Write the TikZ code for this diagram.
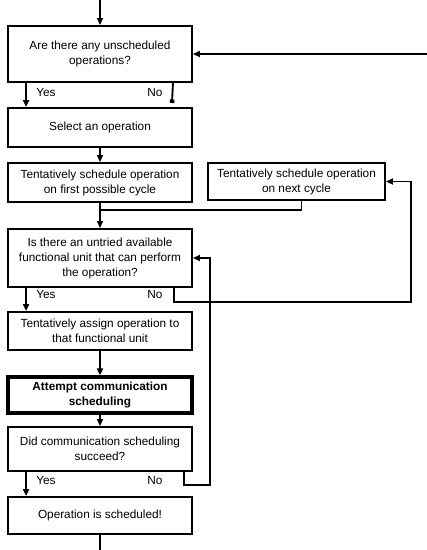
\documentclass[tikz,border=0pt]{standalone}
\usepackage{fontspec}
\setmainfont{Liberation Sans}
\usetikzlibrary{arrows.meta}
\begin{document}
\begin{tikzpicture}[x=1pt,y=-1pt,
  box/.style={draw,line width=1.9pt,rectangle,minimum width=184pt,align=center,inner sep=0pt,
    font=\fontsize{11.8}{15}\selectfont},
  thickbox/.style={box,line width=3.2pt},
  conn/.style={line width=1.9pt},
  arr/.style={conn,-{Triangle[length=7pt,width=6pt]}},
  lbl/.style={font=\fontsize{11.8}{14}\selectfont,inner sep=0pt}]
\useasboundingbox (0,0) rectangle (427,550);
\node[box,minimum height=56pt] (b1) at (100,54) {Are there any unscheduled\\operations?};
\node[box,minimum height=39pt] (b2) at (100,127.5) {Select an operation};
\node[box,minimum height=39pt] (b3) at (100,182.5) {Tentatively schedule operation\\on first possible cycle};
\node[box,minimum height=37pt,minimum width=177pt] (b4) at (296.5,181.5) {Tentatively schedule operation\\on next cycle};
\node[box,minimum height=58pt] (b5) at (100,258) {Is there an untried available\\functional unit that can perform\\the operation?};
\node[box,minimum height=38pt] (b6) at (100,331) {Tentatively assign operation to\\that functional unit};
\node[thickbox,minimum height=36pt,font=\fontsize{11.8}{15}\selectfont\bfseries] (b7) at (100,395) {Attempt communication\\scheduling};
\node[box,minimum height=44pt] (b8) at (100,449) {Did communication scheduling\\succeed?};
\node[box,minimum height=37pt] (b9) at (100,515.5) {Operation is scheduled!};
% labels
\node[lbl] (y1) at (46,92) {Yes};
\node[lbl] (n1) at (155,92) {No};
\node[lbl] (y2) at (46,294) {Yes};
\node[lbl] (n2) at (155,294) {No};
\node[lbl] (y3) at (46,480) {Yes};
\node[lbl] (n3) at (155,480) {No};
% coordinates
\coordinate (top) at (100,0);
\coordinate (in1) at (427,54);
\coordinate (nostub) at (172,103);
\coordinate (merge) at (100,210);
\coordinate (c4b) at (411,302);
\coordinate (c4c) at (411,181.5);
\coordinate (c5b) at (210,485);
\coordinate (c5c) at (210,258);
\coordinate (bot) at (100,550);
% connectors
\draw[arr] (top) -- (b1.north);
\draw[arr] (in1) -- (b1.east);
\draw[arr] ([xshift=19pt]b1.south west) -- ([xshift=19pt]b2.north west);
\draw[conn,-{Square[length=3.5pt,width=4.5pt]}] ([xshift=-20pt]b1.south east) -- (nostub);
\draw[arr] (b2.south) -- (b3.north);
\draw[arr] (b3.south) -- (b5.north);
\draw[conn] ([xshift=5pt]b4.south) |- (merge);
\draw[arr] ([xshift=-19pt]b5.south east) |- (c4b) -- (c4c) -- (b4.east);
\draw[arr] ([xshift=19pt]b5.south west) -- ([xshift=19pt]b6.north west);
\draw[arr] (b6.south) -- (b7.north);
\draw[arr] (b7.south) -- (b8.north);
\draw[arr] ([xshift=-9pt]b8.south east) |- (c5b) -- (c5c) -- (b5.east);
\draw[arr] ([xshift=19pt]b8.south west) -- ([xshift=19pt]b9.north west);
\draw[conn] (b9.south) -- (bot);
\end{tikzpicture}
\end{document}
